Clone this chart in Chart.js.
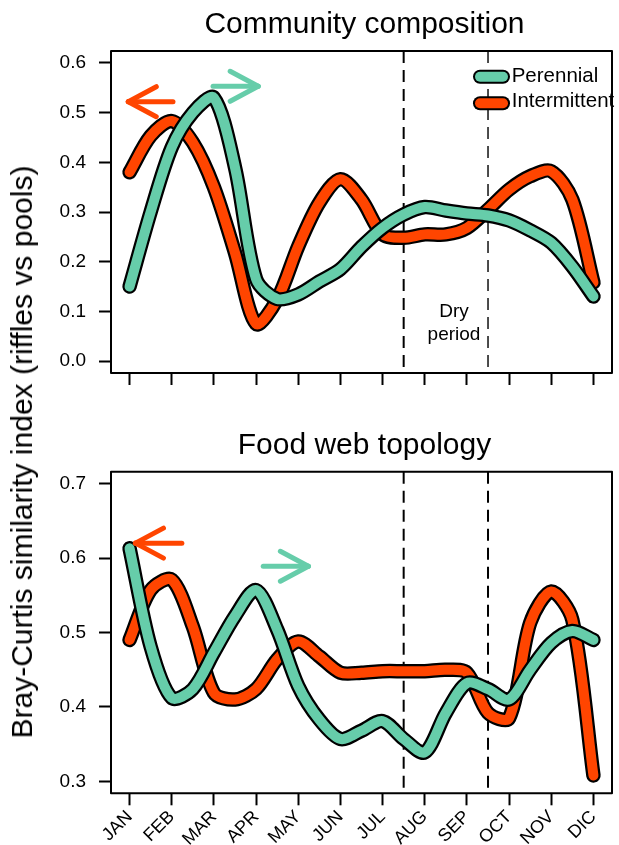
<!DOCTYPE html>
<html lang="en">
<head>
<meta charset="UTF-8">
<title>Bray-Curtis similarity, riffles vs pools</title>
<script src="https://cdn.jsdelivr.net/npm/chart.js"></script>
<style>
    body { margin: 0; background: #fff; font-family: 'Liberation Sans', Arial, sans-serif; color: #000; }
    #wrap { position: relative; width: 619px; height: 845px; overflow: hidden; }
    canvas { position: absolute; left: 0; }
    .txt { position: absolute; white-space: nowrap; line-height: 1; z-index: 2; }
</style>
</head>
<body>
<div id="wrap">
    <canvas id="topChart" width="619" height="420" style="top:0"></canvas>
    <canvas id="bottomChart" width="619" height="425" style="top:420px"></canvas>

    <div class="txt" style="font-size:30px; left:114px; width:501px; text-align:center; top:7.6px">Community composition</div>
    <div class="txt" style="font-size:30px; left:114px; width:501px; text-align:center; top:428.9px">Food web topology</div>
    <div class="txt" style="font-size:30px; left:21.6px; top:452px; transform:translate(-50%,-50%) rotate(-90deg)">Bray-Curtis similarity index (riffles vs pools)</div>

    <div class="txt" style="font-size:19px; left:454px; top:301px; transform:translateX(-50%)">Dry</div>
    <div class="txt" style="font-size:19px; left:454px; top:324px; transform:translateX(-50%)">period</div>

    <div class="txt" style="font-size:20.5px; left:511.7px; top:64.5px">Perennial</div>
    <div class="txt" style="font-size:20.5px; left:511.7px; top:90px">Intermittent</div>
</div>

<script>
    // months on the x axis (index 0 = JAN)
    const months = ['JAN', 'FEB', 'MAR', 'APR', 'MAY', 'JUN', 'JUL', 'AUG', 'SEP', 'OCT', 'NOV', 'DIC'];
    const monthPos = [0, 1, 2, 3, 4, 5, 6, 7, 8, 9, 10, 11];

    // half-month sampling of the curves
    const xGrid = [0, 0.5, 1, 1.5, 2, 2.5, 3, 3.5, 4, 4.5, 5, 5.5, 6, 6.5, 7, 7.5, 8, 8.5, 9, 9.5, 10, 10.5, 11];

    const commPerennial    = [0.15, 0.30, 0.43, 0.50, 0.53, 0.39, 0.165, 0.125, 0.134, 0.16, 0.185, 0.23, 0.268, 0.295, 0.31, 0.303, 0.297, 0.293, 0.283, 0.263, 0.238, 0.19, 0.13];
    const commIntermittent = [0.38, 0.453, 0.483, 0.44, 0.35, 0.218, 0.075, 0.124, 0.231, 0.319, 0.366, 0.325, 0.255, 0.248, 0.255, 0.255, 0.268, 0.305, 0.345, 0.372, 0.382, 0.325, 0.158];

    const foodPerennial    = [0.613, 0.481, 0.412, 0.424, 0.473, 0.522, 0.557, 0.504, 0.428, 0.383, 0.357, 0.368, 0.381, 0.357, 0.339, 0.392, 0.432, 0.424, 0.41, 0.45, 0.486, 0.502, 0.49];
    const foodIntermittent = [0.49, 0.557, 0.571, 0.508, 0.419, 0.41, 0.424, 0.464, 0.488, 0.468, 0.446, 0.446, 0.448, 0.448, 0.448, 0.45, 0.446, 0.392, 0.385, 0.513, 0.555, 0.517, 0.308];

    const commTicks = [0, 0.1, 0.2, 0.3, 0.4, 0.5, 0.6];
    const foodTicks = [0.3, 0.4, 0.5, 0.6, 0.7];

    // dry period limits (between JUL/AUG and SEP/OCT)
    const dryPeriod = [6.5, 8.5];

    const RED = '#FF4500';
    const GREEN = '#66CDAA';

    // arrows: tail -> head in month units, at a given index value
    const decorFor = {
        topChart: {
            dashWidths: [2, 1.4],
            arrows: [
                {tail: 1.03, head: -0.03, y: 0.522, color: RED},
                {tail: 1.98, head: 3.05, y: 0.553, color: GREEN}
            ],
            legend: true
        },
        bottomChart: {
            dashWidths: [2, 2],
            arrows: [
                {tail: 1.24, head: 0.14, y: 0.62, color: RED},
                {tail: 3.17, head: 4.24, y: 0.589, color: GREEN}
            ],
            legend: false
        }
    };

    Chart.defaults.font.family = "'Liberation Sans', Arial, sans-serif";
    Chart.defaults.color = '#000';

    function line(ys, color, width, order) {
        return {
            data: xGrid.map((x, i) => ({x: x, y: ys[i]})),
            borderColor: color,
            borderWidth: width,
            pointRadius: 0,
            tension: 0.3,
            borderCapStyle: 'round',
            borderJoinStyle: 'round',
            fill: false,
            order: order
        };
    }

    function drawSeg(ctx, x0, y0, x1, y1) {
        ctx.beginPath();
        ctx.moveTo(x0, y0);
        ctx.lineTo(x1, y1);
        ctx.stroke();
    }

    const decor = {
        id: 'decor',
        beforeDatasetsDraw(chart) {
            const d = decorFor[chart.canvas.id];
            const a = chart.chartArea;
            const x = chart.scales.x;
            const ctx = chart.ctx;
            ctx.save();
            ctx.strokeStyle = '#000';
            ctx.setLineDash([12, 7]);
            dryPeriod.forEach((v, i) => {
                ctx.lineWidth = d.dashWidths[i];
                const px = x.getPixelForValue(v);
                drawSeg(ctx, px, a.top, px, a.bottom);
            });
            ctx.restore();
        },
        afterDatasetsDraw(chart) {
            const d = decorFor[chart.canvas.id];
            const a = chart.chartArea;
            const x = chart.scales.x;
            const y = chart.scales.y;
            const ctx = chart.ctx;
            ctx.save();

            // arrows
            ctx.lineCap = 'round';
            ctx.lineJoin = 'round';
            ctx.lineWidth = 5;
            d.arrows.forEach(ar => {
                const xt = x.getPixelForValue(ar.tail);
                const xh = x.getPixelForValue(ar.head);
                const py = y.getPixelForValue(ar.y);
                const dir = xh > xt ? 1 : -1;
                ctx.strokeStyle = ar.color;
                drawSeg(ctx, xt, py, xh, py);
                drawSeg(ctx, xh, py, xh - dir * 28, py - 15);
                drawSeg(ctx, xh, py, xh - dir * 28, py + 15);
            });

            // legend swatches
            if (d.legend) {
                [[76.7, GREEN], [103.2, RED]].forEach(s => {
                    ctx.strokeStyle = '#000';
                    ctx.lineWidth = 14;
                    drawSeg(ctx, 480, s[0], 503, s[0]);
                    ctx.strokeStyle = s[1];
                    ctx.lineWidth = 10;
                    drawSeg(ctx, 480, s[0], 503, s[0]);
                });
            }

            // box
            ctx.lineCap = 'butt';
            ctx.strokeStyle = '#000';
            ctx.lineWidth = 2;
            ctx.strokeRect(a.left, a.top, a.right - a.left, a.bottom - a.top);
            ctx.restore();
        }
    };

    function makePanel(id, per, inter, ticks, yMin, yMax, showMonths, padTop, xHeight) {
        new Chart(document.getElementById(id), {
            type: 'line',
            data: {
                datasets: [
                    line(inter, '#000', 14.5, 4),
                    line(inter, RED, 10, 3),
                    line(per, '#000', 14.5, 2),
                    line(per, GREEN, 10, 1)
                ]
            },
            options: {
                responsive: false,
                animation: false,
                events: [],
                layout: {padding: {top: padTop, right: 7, left: 0, bottom: 0}},
                plugins: {legend: {display: false}, tooltip: {enabled: false}},
                scales: {
                    x: {
                        type: 'linear',
                        min: -0.44,
                        max: 11.44,
                        afterBuildTicks: s => { s.ticks = monthPos.map(v => ({value: v})); },
                        afterFit: s => { s.height = xHeight; },
                        border: {display: false},
                        grid: {drawOnChartArea: false, drawTicks: true, tickLength: 12, tickWidth: 2, tickColor: '#000'},
                        ticks: {
                            display: showMonths,
                            autoSkip: false,
                            minRotation: 45,
                            maxRotation: 45,
                            padding: 1,
                            font: {size: 18},
                            color: '#000',
                            callback: (v, i) => months[i]
                        }
                    },
                    y: {
                        type: 'linear',
                        min: yMin,
                        max: yMax,
                        afterBuildTicks: s => { s.ticks = ticks.map(v => ({value: v})); },
                        afterFit: s => { s.width = 111; },
                        border: {display: false},
                        grid: {drawOnChartArea: false, drawTicks: true, tickLength: 12, tickWidth: 2, tickColor: '#000'},
                        ticks: {
                            padding: 13,
                            font: {size: 19},
                            color: '#000',
                            callback: v => v.toFixed(1)
                        }
                    }
                }
            },
            plugins: [decor]
        });
    }

    makePanel('topChart', commPerennial, commIntermittent, commTicks, -0.024, 0.624, false, 51, 47);
    makePanel('bottomChart', foodPerennial, foodIntermittent, foodTicks, 0.284, 0.716, true, 51.7, 51.7);
</script>
</body>
</html>
